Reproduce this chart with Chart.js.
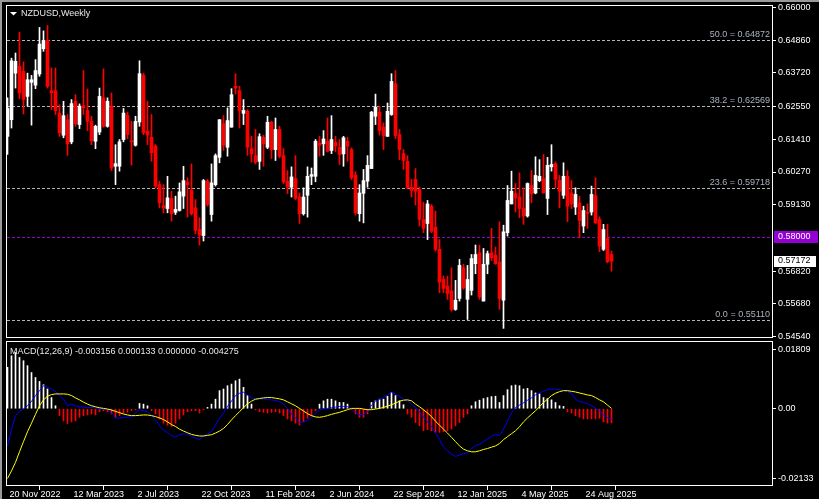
<!DOCTYPE html>
<html><head><meta charset="utf-8">
<script src="https://cdn.jsdelivr.net/npm/chart.js@4.4.1/dist/chart.umd.min.js"></script>
<style>
html,body{margin:0;padding:0;background:#000;overflow:hidden;}
#wrap{position:relative;width:819px;height:499px;background:#000;}
#c1{position:absolute;left:0;top:0;}
#c2{position:absolute;left:0;top:338px;}
#ft{position:absolute;left:0;top:0;width:819px;height:2px;background:#9a9a9a;}
#fl{position:absolute;left:0;top:0;width:2px;height:499px;background:#9a9a9a;}
</style></head>
<body><div id="wrap">
<canvas id="c1" width="819" height="341"></canvas>
<canvas id="c2" width="819" height="161"></canvas>
<div id="ft"></div><div id="fl"></div>
</div>
<script>
// ---- weekly NZDUSD candles (first bar: week of 20 Nov 2022) ----
const open = [0.6151,0.6209,0.6371,0.6395,0.6377,0.6290,0.6339,0.6329,0.6368,0.6456,
0.6485,0.6310,0.6310,0.6232,0.6155,0.6209,0.6132,0.6273,0.6192,0.6258,
0.6241,0.6203,0.6134,0.6166,0.6285,0.6186,0.6256,0.6047,0.6047,0.6140,
0.6224,0.6136,0.6120,0.6201,0.6363,0.6169,0.6148,0.6117,0.5983,0.5910,
0.5900,0.5935,0.5887,0.5893,0.5943,0.5992,0.5963,0.5902,0.5827,0.5806,
0.5995,0.5879,0.5983,0.6078,0.6195,0.6113,0.6183,0.6325,0.6310,0.6231,
0.6238,0.6108,0.6084,0.6064,0.6148,0.6113,0.6201,0.6105,0.6175,0.6084,
0.5995,0.5974,0.6004,0.5940,0.5882,0.5946,0.6012,0.6012,0.6128,0.6125,
0.6134,0.6102,0.6130,0.6113,0.6090,0.6134,0.6105,0.6016,0.5882,0.5953,
0.5995,0.6039,0.6221,0.6235,0.6183,0.6151,0.6227,0.6334,0.6157,0.6091,
0.6064,0.5974,0.6001,0.5966,0.5862,0.5848,0.5908,0.5835,0.5758,0.5653,
0.5630,0.5613,0.5549,0.5587,0.5694,0.5584,0.5615,0.5708,0.5746,0.5578,
0.5706,0.5746,0.5738,0.5714,0.5581,0.5816,0.5916,0.5952,0.5940,0.5900,
0.5874,0.5980,0.5954,0.5997,0.6004,0.5935,0.6045,0.6056,0.5998,0.5946,
0.6012,0.5954,0.5905,0.5920,0.5839,0.5887,0.5888,0.5945,0.5862,0.5758,
0.5796,0.5740];
const high = [0.6285,0.6423,0.6441,0.6514,0.6410,0.6371,0.6363,0.6418,0.6530,0.6518,
0.6537,0.6389,0.6389,0.6261,0.6273,0.6227,0.6279,0.6296,0.6264,0.6380,
0.6316,0.6221,0.6190,0.6319,0.6386,0.6285,0.6302,0.6122,0.6140,0.6248,
0.6236,0.6203,0.6221,0.6414,0.6371,0.6273,0.6227,0.6122,0.5995,0.5983,
0.6012,0.5960,0.5943,0.5989,0.6047,0.6007,0.6055,0.5931,0.5868,0.6001,
0.6001,0.6055,0.6090,0.6209,0.6223,0.6250,0.6317,0.6369,0.6325,0.6279,
0.6244,0.6151,0.6175,0.6160,0.6155,0.6221,0.6203,0.6215,0.6186,0.6108,
0.6032,0.6045,0.6084,0.5954,0.5972,0.6045,0.6041,0.6140,0.6151,0.6171,
0.6215,0.6223,0.6151,0.6140,0.6151,0.6148,0.6111,0.6028,0.5983,0.6036,
0.6084,0.6238,0.6298,0.6256,0.6198,0.6267,0.6369,0.6380,0.6175,0.6105,
0.6084,0.6001,0.6039,0.5975,0.5922,0.5928,0.5914,0.5891,0.5792,0.5665,
0.5665,0.5694,0.5650,0.5723,0.5706,0.5702,0.5740,0.5773,0.5773,0.5761,
0.5752,0.5831,0.5766,0.5854,0.5842,0.5980,0.6030,0.5987,0.6024,0.5972,
0.5989,0.6032,0.6080,0.6070,0.6088,0.6078,0.6122,0.6062,0.6015,0.6059,
0.6032,0.5997,0.5972,0.5943,0.5908,0.5916,0.5978,0.6007,0.5871,0.5845,
0.5845,0.5752];
const low = [0.6088,0.6180,0.6319,0.6282,0.6229,0.6256,0.6190,0.6317,0.6360,0.6447,
0.6319,0.6244,0.6227,0.6151,0.6146,0.6085,0.6125,0.6186,0.6178,0.6227,
0.6171,0.6122,0.6108,0.6157,0.6183,0.6183,0.6032,0.5983,0.6030,0.6132,
0.6143,0.6051,0.6117,0.6186,0.6157,0.6122,0.6064,0.5972,0.5902,0.5885,
0.5885,0.5856,0.5879,0.5891,0.5900,0.5870,0.5877,0.5812,0.5773,0.5787,
0.5908,0.5856,0.5978,0.6059,0.6102,0.6082,0.6183,0.6298,0.6180,0.6192,
0.6085,0.6062,0.6055,0.6036,0.6047,0.6108,0.6074,0.6067,0.6076,0.5987,
0.5952,0.5940,0.5931,0.5848,0.5877,0.5870,0.5983,0.5993,0.6082,0.6085,
0.6097,0.6091,0.6097,0.6053,0.6047,0.6064,0.6001,0.5877,0.5856,0.5850,
0.5974,0.6039,0.6192,0.6155,0.6105,0.6151,0.6224,0.6143,0.6070,0.6036,
0.5970,0.5940,0.5912,0.5839,0.5816,0.5792,0.5816,0.5752,0.5607,0.5607,
0.5584,0.5543,0.5546,0.5578,0.5619,0.5514,0.5599,0.5673,0.5584,0.5578,
0.5673,0.5719,0.5706,0.5549,0.5483,0.5804,0.5916,0.5888,0.5868,0.5845,
0.5870,0.5920,0.5951,0.5993,0.5954,0.5879,0.6030,0.5972,0.5902,0.5935,
0.5854,0.5900,0.5879,0.5798,0.5816,0.5831,0.5877,0.5848,0.5750,0.5754,
0.5711,0.5682];
const close = [0.6248,0.6414,0.6412,0.6302,0.6279,0.6348,0.6348,0.6380,0.6472,0.6484,
0.6325,0.6303,0.6241,0.6163,0.6223,0.6125,0.6265,0.6195,0.6256,0.6250,
0.6203,0.6136,0.6186,0.6290,0.6186,0.6273,0.6041,0.6056,0.6132,0.6232,
0.6157,0.6132,0.6203,0.6369,0.6163,0.6155,0.6094,0.5978,0.5920,0.5902,
0.5937,0.5882,0.5897,0.5958,0.5997,0.5983,0.5882,0.5824,0.5807,0.5997,
0.5914,0.5989,0.6084,0.6209,0.6120,0.6206,0.6296,0.6319,0.6241,0.6241,
0.6113,0.6090,0.6061,0.6150,0.6125,0.6200,0.6105,0.6175,0.6082,0.5992,
0.5974,0.6010,0.5935,0.5882,0.5940,0.6012,0.6018,0.6134,0.6120,0.6142,
0.6099,0.6140,0.6117,0.6088,0.6146,0.6117,0.6007,0.5885,0.5954,0.5997,
0.6050,0.6235,0.6252,0.6171,0.6154,0.6238,0.6342,0.6154,0.6105,0.6067,
0.5972,0.5963,0.5960,0.5862,0.5831,0.5916,0.5821,0.5758,0.5644,0.5622,
0.5604,0.5549,0.5581,0.5702,0.5624,0.5653,0.5726,0.5740,0.5592,0.5706,
0.5743,0.5729,0.5708,0.5587,0.5819,0.5928,0.5960,0.5937,0.5900,0.5874,
0.5987,0.5951,0.6015,0.6012,0.5954,0.6050,0.6053,0.6001,0.5960,0.6012,
0.5908,0.5916,0.5949,0.5858,0.5893,0.5883,0.5949,0.5850,0.5769,0.5827,
0.5715,0.5717];

// ---- MACD(12,26,9) pane ----
const macdLine = [-0.0113,-0.0062,-0.0021,-0.0007,-0.0001,0.0009,0.0022,0.0040,0.0055,0.0070,
0.0065,0.0060,0.0052,0.0042,0.0029,0.0009,0.0014,0.0009,0.0006,0.0005,
0.0004,0.0004,0.0003,-0.0001,-0.0002,-0.0003,-0.0013,-0.0029,-0.0029,-0.0026,
-0.0026,-0.0024,-0.0013,-0.0003,-0.0006,-0.0009,-0.0021,-0.0033,-0.0052,-0.0065,
-0.0072,-0.0082,-0.0086,-0.0079,-0.0077,-0.0077,-0.0084,-0.0089,-0.0094,-0.0082,
-0.0077,-0.0070,-0.0050,-0.0029,-0.0013,0.0007,0.0023,0.0040,0.0047,0.0050,
0.0042,0.0033,0.0031,0.0030,0.0029,0.0028,0.0027,0.0025,0.0022,0.0014,
0.0001,-0.0016,-0.0029,-0.0042,-0.0040,-0.0036,-0.0026,-0.0013,-0.0005,0.0000,
0.0001,0.0003,0.0005,0.0007,0.0007,0.0006,-0.0001,-0.0011,-0.0019,-0.0017,
-0.0009,0.0011,0.0023,0.0028,0.0034,0.0042,0.0050,0.0045,0.0037,0.0029,
0.0023,0.0014,0.0004,-0.0009,-0.0026,-0.0040,-0.0054,-0.0074,-0.0094,-0.0116,
-0.0128,-0.0138,-0.0145,-0.0141,-0.0137,-0.0133,-0.0121,-0.0113,-0.0108,-0.0100,
-0.0092,-0.0084,-0.0078,-0.0082,-0.0062,-0.0037,-0.0013,0.0004,0.0011,0.0018,
0.0026,0.0033,0.0042,0.0048,0.0054,0.0058,0.0060,0.0060,0.0058,0.0055,
0.0052,0.0048,0.0029,0.0022,0.0019,0.0015,0.0009,0.0001,-0.0006,-0.0019,
-0.0027,-0.0032];
const signalLine = [-0.0212,-0.0189,-0.0163,-0.0131,-0.0100,-0.0070,-0.0044,-0.0017,0.0009,0.0027,
0.0038,0.0043,0.0045,0.0045,0.0045,0.0044,0.0040,0.0033,0.0027,0.0020,
0.0014,0.0009,0.0006,0.0003,0.0001,-0.0001,-0.0004,-0.0008,-0.0012,-0.0016,
-0.0019,-0.0021,-0.0021,-0.0020,-0.0019,-0.0019,-0.0021,-0.0024,-0.0028,-0.0033,
-0.0040,-0.0048,-0.0054,-0.0062,-0.0068,-0.0073,-0.0078,-0.0081,-0.0083,-0.0083,
-0.0081,-0.0079,-0.0074,-0.0068,-0.0060,-0.0048,-0.0034,-0.0021,-0.0009,0.0003,
0.0015,0.0023,0.0029,0.0031,0.0033,0.0034,0.0034,0.0032,0.0030,0.0027,
0.0021,0.0015,0.0009,0.0001,-0.0007,-0.0015,-0.0021,-0.0025,-0.0026,-0.0024,
-0.0021,-0.0017,-0.0014,-0.0011,-0.0007,-0.0003,0.0001,0.0001,0.0001,-0.0001,
-0.0003,-0.0003,-0.0001,0.0001,0.0004,0.0008,0.0012,0.0017,0.0023,0.0026,
0.0027,0.0024,0.0014,0.0006,-0.0003,-0.0013,-0.0024,-0.0038,-0.0050,-0.0062,
-0.0074,-0.0087,-0.0100,-0.0113,-0.0123,-0.0128,-0.0131,-0.0131,-0.0128,-0.0124,
-0.0121,-0.0117,-0.0113,-0.0106,-0.0094,-0.0085,-0.0076,-0.0067,-0.0055,-0.0040,
-0.0028,-0.0017,-0.0006,0.0006,0.0019,0.0029,0.0040,0.0047,0.0052,0.0055,
0.0055,0.0053,0.0051,0.0048,0.0045,0.0042,0.0040,0.0034,0.0027,0.0021,
0.0011,0.0001];
const histogram = [0.0126,0.0161,0.0171,0.0156,0.0146,0.0131,0.0110,0.0095,0.0083,0.0073,
0.0060,0.0034,0.0009,-0.0021,-0.0037,-0.0045,-0.0040,-0.0037,-0.0026,-0.0021,
-0.0019,-0.0016,-0.0019,-0.0009,-0.0006,-0.0009,-0.0016,-0.0026,-0.0021,-0.0013,
-0.0011,-0.0006,-0.0003,0.0016,0.0014,0.0009,-0.0006,-0.0016,-0.0031,-0.0044,
-0.0050,-0.0054,-0.0044,-0.0031,-0.0019,-0.0009,-0.0006,-0.0006,-0.0013,-0.0003,
0.0004,0.0014,0.0029,0.0055,0.0060,0.0070,0.0075,0.0085,0.0090,0.0065,
0.0040,0.0014,-0.0003,-0.0009,-0.0011,-0.0013,-0.0011,-0.0009,-0.0013,-0.0021,
-0.0031,-0.0037,-0.0044,-0.0050,-0.0040,-0.0029,-0.0021,-0.0006,0.0014,0.0024,
0.0029,0.0029,0.0024,0.0019,0.0019,0.0014,-0.0003,-0.0016,-0.0026,-0.0026,
-0.0016,0.0019,0.0024,0.0029,0.0029,0.0038,0.0050,0.0040,0.0024,0.0012,
-0.0016,-0.0026,-0.0042,-0.0052,-0.0067,-0.0064,-0.0067,-0.0072,-0.0072,-0.0070,
-0.0067,-0.0062,-0.0052,-0.0042,-0.0026,-0.0016,0.0009,0.0021,0.0026,0.0031,
0.0034,0.0037,0.0038,0.0019,0.0040,0.0058,0.0070,0.0072,0.0070,0.0060,
0.0062,0.0055,0.0048,0.0045,0.0034,0.0031,0.0027,0.0019,0.0009,0.0007,
-0.0009,-0.0013,-0.0021,-0.0026,-0.0031,-0.0031,-0.0031,-0.0031,-0.0029,-0.0040,
-0.0044,-0.0043];

// ---- axes / annotations ----
const dateTickIndex = [0,16,32,48,64,80,96,112,128,144];
const dateTickLabels = ['20 Nov 2022','12 Mar 2023','2 Jul 2023','22 Oct 2023','11 Feb 2024','2 Jun 2024','22 Sep 2024','12 Jan 2025','4 May 2025','24 Aug 2025'];
const priceTicks = [0.66000,0.64860,0.63720,0.62550,0.61410,0.60270,0.59130,0.56820,0.55680,0.54540];
const macdTicks = [0.01809,0.0,-0.02133];
const macdTickLabels = ['0.01809','0.00','-0.02133'];
const fiboLevels = [0.64872,0.62569,0.59718,0.55110];
const fiboNames = ['50.0','38.2','23.6','0.0'];
const alertLevel = 0.58000;
const lastPrice = 0.57172;
const title = 'NZDUSD,Weekly';
const macdTitle = 'MACD(12,26,9) -0.003156 0.000133 0.000000 -0.004275';

const FONT = 'Liberation Sans, Arial, sans-serif';
const idx = open.map((_, i) => i);
const candleColor = idx.map(i => close[i] >= open[i] ? '#ffffff' : '#ff0000');
const XMIN = -0.375, XMAX = 191.125;

function frame(ctx, a) {
  ctx.save();
  ctx.fillStyle = '#ffffff';
  ctx.fillRect(a.left, a.top, a.right - a.left + 1, 1);
  ctx.fillRect(a.left, a.bottom, a.right - a.left + 1, 1);
  ctx.fillRect(a.left, a.top, 1, a.bottom - a.top);
  ctx.fillRect(a.right, a.top, 1, a.bottom - a.top + 1);
  ctx.restore();
}
function dashed(ctx, a, y, color) {
  ctx.save();
  ctx.strokeStyle = color; ctx.lineWidth = 1; ctx.setLineDash([3, 2]);
  const yy = Math.round(y) + 0.5;
  ctx.beginPath(); ctx.moveTo(a.left + 1, yy); ctx.lineTo(a.right, yy); ctx.stroke();
  ctx.restore();
}

const mainPlugin = {
  id: 'mainDeco',
  beforeDatasetsDraw(chart) {
    const ctx = chart.ctx, a = chart.chartArea, y = chart.scales.y;
    fiboLevels.forEach(v => dashed(ctx, a, y.getPixelForValue(v), '#b4b4b4'));
    dashed(ctx, a, y.getPixelForValue(alertLevel), '#9400d3');
  },
  afterDraw(chart) {
    const ctx = chart.ctx, a = chart.chartArea, y = chart.scales.y;
    frame(ctx, a);
    ctx.save();
    ctx.font = '9px ' + FONT;
    ctx.textBaseline = 'alphabetic';
    ctx.textAlign = 'right';
    ctx.fillStyle = '#a9b2bf';
    fiboLevels.forEach((v, k) => {
      ctx.fillText(fiboNames[k] + ' = ' + v.toFixed(5), a.right - 2, Math.round(y.getPixelForValue(v)) - 3);
    });
    // title + triangle
    ctx.textAlign = 'left'; ctx.textBaseline = 'middle';
    ctx.fillStyle = '#e8e8e8';
    ctx.fillText(title, 21, 14);
    ctx.fillStyle = '#ffffff';
    ctx.beginPath(); ctx.moveTo(10, 12); ctx.lineTo(17, 12); ctx.lineTo(13.5, 15.5); ctx.closePath(); ctx.fill();
    // price boxes on axis
    const pa = Math.round(y.getPixelForValue(alertLevel));
    ctx.fillStyle = '#9400d3';
    ctx.fillRect(774, pa - 6, 44, 12);
    ctx.fillStyle = '#ffffff';
    ctx.fillText(alertLevel.toFixed(5), 778, pa);
    const pl = Math.round(y.getPixelForValue(lastPrice));
    ctx.fillStyle = '#ffffff';
    ctx.fillRect(774, pl - 5, 42, 11);
    ctx.fillStyle = '#000000';
    ctx.fillText(lastPrice.toFixed(5), 778, pl);
    ctx.restore();
  }
};

new Chart(document.getElementById('c1'), {
  type: 'bar',
  data: {
    datasets: [
      { data: idx.map(i => ({x: i, y: [low[i], high[i]]})), backgroundColor: candleColor,
        barThickness: 1, grouped: false, borderWidth: 0, minBarLength: 1, order: 2 },
      { data: idx.map(i => ({x: i, y: [open[i], close[i]]})), backgroundColor: candleColor,
        barThickness: 3, grouped: false, borderWidth: 0, minBarLength: 1, order: 1 }
    ]
  },
  options: {
    responsive: false, animation: false, events: [],
    layout: { padding: { left: 6, top: 5, right: 0, bottom: 4 } },
    plugins: { legend: { display: false }, tooltip: { enabled: false } },
    scales: {
      x: { type: 'linear', min: XMIN, max: XMAX, display: false, offset: false },
      y: {
        position: 'right', min: 0.5453, max: 0.6608,
        afterBuildTicks: s => { s.ticks = priceTicks.map(v => ({ value: v })); },
        afterFit: s => { s.width = 47; s.paddingTop = 0; s.paddingBottom = 0; },
        ticks: { color: '#ffffff', font: { family: FONT, size: 9, lineHeight: 1 }, padding: 2,
                 autoSkip: false, callback: v => Number(v).toFixed(5) },
        grid: { drawOnChartArea: false, drawTicks: true, tickLength: 4, color: '#ffffff' },
        border: { display: false }
      }
    }
  },
  plugins: [mainPlugin]
});

const macdPlugin = {
  id: 'macdDeco',
  afterDraw(chart) {
    const ctx = chart.ctx, a = chart.chartArea;
    frame(ctx, a);
    ctx.save();
    ctx.font = '9px ' + FONT;
    ctx.textAlign = 'left'; ctx.textBaseline = 'middle';
    ctx.fillStyle = '#e8e8e8';
    ctx.fillText(macdTitle, 10, a.top + 10.5);
    ctx.restore();
  }
};

new Chart(document.getElementById('c2'), {
  type: 'bar',
  data: {
    datasets: [
      { type: 'line', data: idx.map(i => ({x: i, y: signalLine[i]})), borderColor: '#ffff00',
        borderWidth: 1, pointRadius: 0, tension: 0, order: 1 },
      { type: 'line', data: idx.map(i => ({x: i, y: macdLine[i]})), borderColor: '#0000ff',
        borderWidth: 1, pointRadius: 0, tension: 0, order: 2 },
      { data: idx.map(i => ({x: i, y: histogram[i]})),
        backgroundColor: idx.map(i => histogram[i] >= 0 ? '#ffffff' : '#ff0000'),
        barThickness: 1, grouped: false, borderWidth: 0, order: 3 }
    ]
  },
  options: {
    responsive: false, animation: false, events: [],
    layout: { padding: { left: 6, top: 3, right: 0, bottom: 0 } },
    plugins: { legend: { display: false }, tooltip: { enabled: false } },
    scales: {
      x: {
        type: 'linear', min: XMIN, max: XMAX, offset: false, position: 'bottom',
        afterBuildTicks: s => { s.ticks = dateTickIndex.map(v => ({ value: v })); },
        afterFit: s => { s.height = 14; s.paddingLeft = 0; s.paddingRight = 0; },
        ticks: { color: '#ffffff', font: { family: FONT, size: 9, lineHeight: 1 }, padding: 0,
                 align: 'start', labelOffset: 2, maxRotation: 0, autoSkip: false,
                 callback: v => dateTickLabels[dateTickIndex.indexOf(v)] },
        grid: { drawOnChartArea: false, drawTicks: true, tickLength: 5, color: '#ffffff' },
        border: { display: false }
      },
      y: {
        position: 'right', min: -0.0232, max: 0.0206,
        afterBuildTicks: s => { s.ticks = macdTicks.map(v => ({ value: v })); },
        afterFit: s => { s.width = 47; s.paddingTop = 0; s.paddingBottom = 0; },
        ticks: { color: '#ffffff', font: { family: FONT, size: 9, lineHeight: 1 }, padding: 2,
                 autoSkip: false, callback: v => macdTickLabels[macdTicks.indexOf(v)] },
        grid: { drawOnChartArea: false, drawTicks: true, tickLength: 4, color: '#ffffff' },
        border: { display: false }
      }
    }
  },
  plugins: [macdPlugin]
});
</script>
</body></html>
